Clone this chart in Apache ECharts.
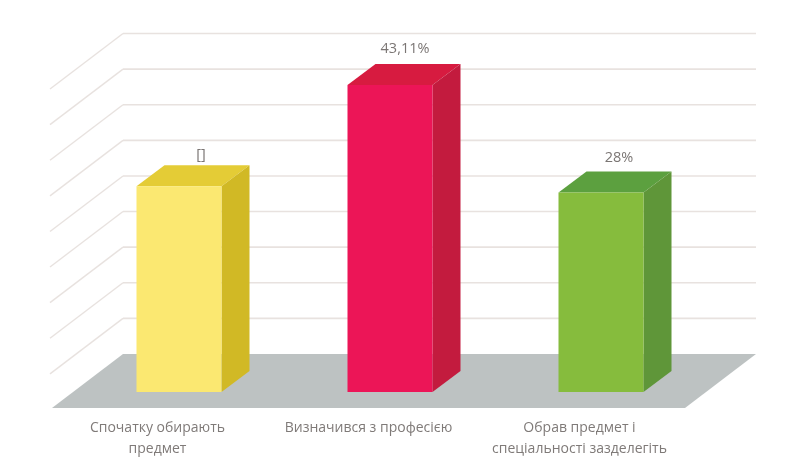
<!DOCTYPE html>
<html>
<head>
<meta charset="utf-8">
<style>
html, body { margin: 0; padding: 0; background: #fff; }
#main { width: 796px; height: 468px; }
</style>
<script src="https://cdn.jsdelivr.net/npm/echarts@6/dist/echarts.min.js"></script>
</head>
<body>
<div id="main"></div>
<script>
var categories = ['Спочатку обирають\nпредмет', 'Визначився з професією', 'Обрав предмет і\nспеціальності зазделегіть']
var values = [28.89, 43.11, 28]
var valueLabels = ['[]', '43,11%', '28%']
var ticks = [5, 10, 15, 20, 25, 30, 35, 40, 45]

var frontColors = ['#fbe871', '#ec1557', '#86bc3d']
var topColors = ['#e4cc36', '#d71b40', '#5ca03f']
var sideColors = ['#d1b925', '#c31b3e', '#5f9639']

// floor depth in px, back wall sits behind the axis plane
var wallDx = 71
var wallDy = -54
// bar sits this far in from the front edge of the floor
var barDx = 21.5
var barDy = -16
var barDepthX = 28
var barDepthY = -21
var barWidth = 85
var labelDx = [22, 15, 18]
var labelDy = [-10, -15, -14]

function renderWall (params, api) {
  var y = api.coord([0, api.value(1)])[1]
  var box = params.coordSys
  return {
    type: 'group',
    children: [
      {
        type: 'line',
        shape: { x1: box.x + wallDx, y1: y + wallDy, x2: box.x + box.width + wallDx, y2: y + wallDy },
        style: { stroke: '#e8e2df', lineWidth: 1.6 }
      },
      {
        type: 'line',
        shape: { x1: box.x + wallDx, y1: y + wallDy, x2: box.x - 2, y2: y + 1.5 },
        style: { stroke: '#e8e2df', lineWidth: 1.4 }
      }
    ]
  }
}

function renderFloor (params, api) {
  var y = api.coord([0, 0])[1]
  var box = params.coordSys
  return {
    type: 'polygon',
    shape: {
      points: [
        [box.x, y],
        [box.x + wallDx, y + wallDy],
        [box.x + box.width + wallDx, y + wallDy],
        [box.x + box.width, y]
      ]
    },
    style: { fill: '#bdc2c2' }
  }
}

function renderBar (params, api) {
  var i = params.dataIndex
  var p = api.coord([api.value(0), api.value(1)])
  var base = api.coord([api.value(0), 0])
  var x0 = p[0] + barDx - barWidth / 2
  var x1 = x0 + barWidth
  var yTop = p[1] + barDy
  var yBottom = base[1] + barDy
  return {
    type: 'group',
    children: [
      {
        type: 'polygon',
        shape: { points: [[x0, yTop], [x1, yTop], [x1 + barDepthX, yTop + barDepthY], [x0 + barDepthX, yTop + barDepthY]] },
        style: { fill: topColors[i] }
      },
      {
        type: 'polygon',
        shape: { points: [[x1, yTop], [x1 + barDepthX, yTop + barDepthY], [x1 + barDepthX, yBottom + barDepthY], [x1, yBottom]] },
        style: { fill: sideColors[i] }
      },
      {
        type: 'rect',
        shape: { x: x0, y: yTop, width: barWidth, height: yBottom - yTop },
        style: { fill: frontColors[i] }
      },
      {
        type: 'text',
        style: {
          text: valueLabels[i],
          x: p[0] + barDx + labelDx[i],
          y: yTop + barDepthY + labelDy[i],
          align: 'center',
          verticalAlign: 'middle',
          fill: '#7b7674',
          font: '14.5px "Open Sans"'
        }
      }
    ]
  }
}

var myChart = echarts.init(document.getElementById('main'))
myChart.setOption({
  animation: false,
  backgroundColor: '#fff',
  grid: {
    left: 52,
    top: 87.5,
    width: 633,
    height: 320.5
  },
  xAxis: {
    type: 'category',
    data: categories,
    axisLine: { show: false },
    axisTick: { show: false },
    axisLabel: {
      interval: 0,
      margin: 10,
      color: '#7f7a78',
      fontFamily: 'Open Sans',
      fontSize: 14,
      lineHeight: 21
    }
  },
  yAxis: {
    type: 'value',
    min: 0,
    max: 45,
    interval: 5,
    axisLine: { show: false },
    axisTick: { show: false },
    axisLabel: { show: false },
    splitLine: { show: false }
  },
  series: [
    {
      type: 'custom',
      renderItem: renderWall,
      encode: { x: 0, y: 1 },
      data: ticks.map(function (t) { return [0, t] }),
      z: 1
    },
    {
      type: 'custom',
      renderItem: renderFloor,
      encode: { x: 0, y: 1 },
      data: [[0, 0]],
      z: 2
    },
    {
      type: 'custom',
      renderItem: renderBar,
      encode: { x: 0, y: 1 },
      data: values.map(function (v, i) { return [i, v] }),
      z: 3
    }
  ]
})
</script>
</body>
</html>
